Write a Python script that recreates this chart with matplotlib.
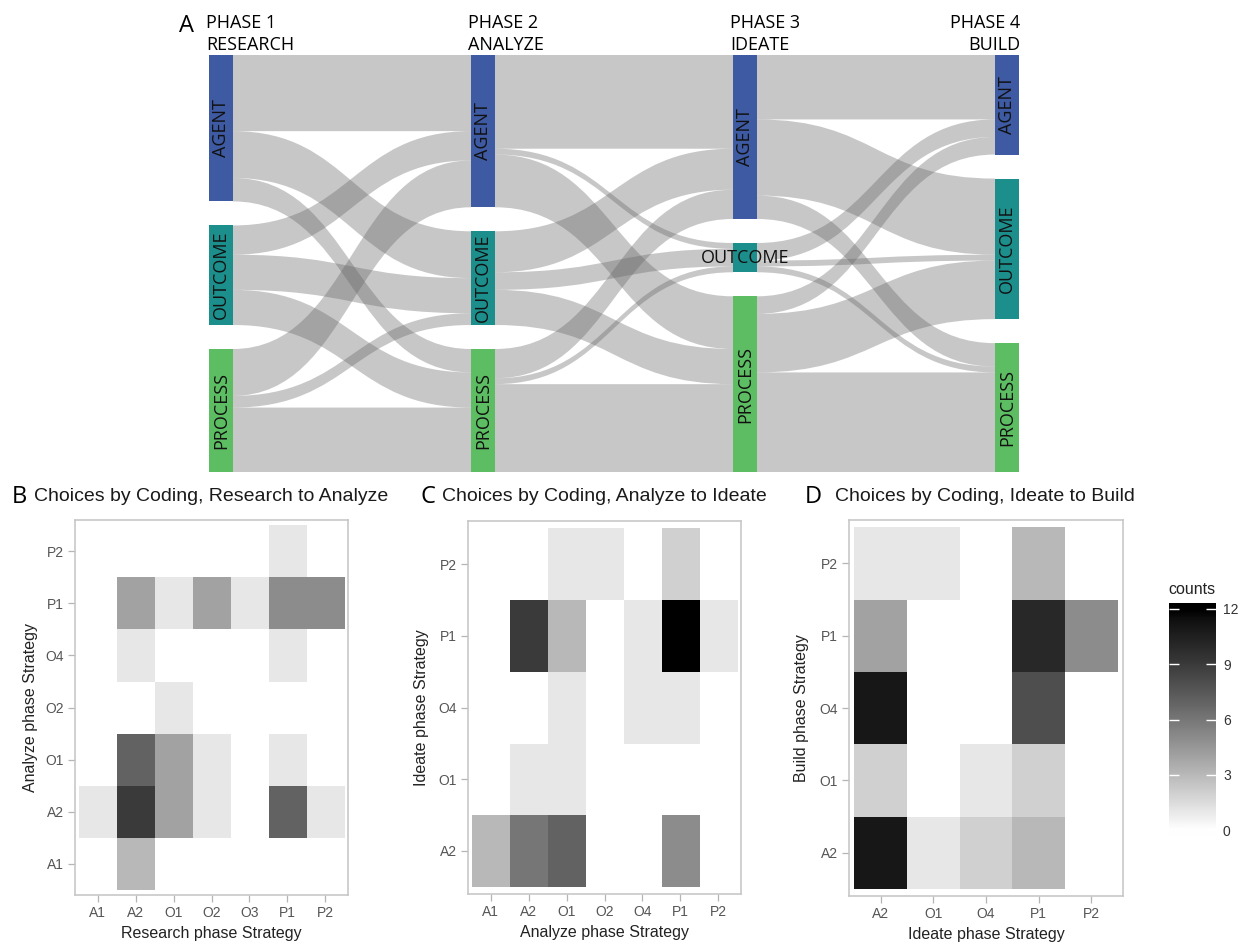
import numpy as np
import matplotlib
matplotlib.use("Agg")
import matplotlib.pyplot as plt
from matplotlib.colors import ListedColormap, Normalize
from matplotlib.path import Path
from matplotlib.patches import PathPatch, Rectangle

# ---------------- data ----------------
node_names = ['AGENT', 'OUTCOME', 'PROCESS']
node_colors = ['#3d5aa3', '#1c8f8c', '#5dbd62']
phase_titles = ['PHASE 1\nRESEARCH', 'PHASE 2\nANALYZE', 'PHASE 3\nIDEATE', 'PHASE 4\nBUILD']

# sankey flows: rows = from (AGENT, OUTCOME, PROCESS), cols = to
flow_research_analyze = [[13, 8, 4], [5, 6, 6], [8, 2, 11]]
flow_analyze_ideate = [[16, 1, 9], [7, 3, 6], [5, 1, 15]]
flow_ideate_build = [[11, 13, 4], [3, 1, 1], [3, 10, 17]]

# heatmaps: rows = y categories (bottom to top), cols = x categories
research_codes = ['A1', 'A2', 'O1', 'O2', 'O3', 'P1', 'P2']
analyze_codes = ['A1', 'A2', 'O1', 'O2', 'O4', 'P1', 'P2']
ideate_codes = ['A2', 'O1', 'O4', 'P1', 'P2']
build_codes = ['A2', 'O1', 'O4', 'P1', 'P2']

counts_research_analyze = [
    [0, 3, 0, 0, 0, 0, 0],   # A1
    [1, 9, 4, 1, 0, 7, 1],   # A2
    [0, 7, 4, 1, 0, 1, 0],   # O1
    [0, 0, 1, 0, 0, 0, 0],   # O2
    [0, 1, 0, 0, 0, 1, 0],   # O4
    [0, 4, 1, 4, 1, 5, 5],   # P1
    [0, 0, 0, 0, 0, 1, 0],   # P2
]
counts_analyze_ideate = [
    [3, 6, 7, 0, 0, 5, 0],   # A2
    [0, 1, 1, 0, 0, 0, 0],   # O1
    [0, 0, 1, 0, 1, 1, 0],   # O4
    [0, 9, 3, 0, 1, 12, 1],  # P1
    [0, 0, 1, 1, 0, 2, 0],   # P2
]
counts_ideate_build = [
    [11, 1, 2, 3, 0],   # A2
    [2, 0, 1, 2, 0],    # O1
    [11, 0, 0, 8, 0],   # O4
    [4, 0, 0, 10, 5],   # P1
    [1, 1, 0, 3, 0],    # P2
]

W, H = 1246, 949
fig = plt.figure(figsize=(W / 100, H / 100), dpi=100)
SANS = ['Open Sans', 'DejaVu Sans']
ARIAL = ['Liberation Sans', 'DejaVu Sans']


def px_box(l, t, r, b):
    return [l / W, 1 - b / H, (r - l) / W, (b - t) / H]


# ---------------- A: sankey ----------------
ax = fig.add_axes(px_box(209, 55, 1019, 472))
ax.axis('off')
bar_w = 24 / 262
gap = 4.1
flows = [np.array(f) for f in (flow_research_analyze, flow_analyze_ideate, flow_ideate_build)]
sizes = [flows[0].sum(axis=1)] + [f.sum(axis=0) for f in flows]
total = sizes[0].sum() + 2 * gap
ax.set_xlim(0, 3 + bar_w)
ax.set_ylim(total, 0)
tops = [np.concatenate([[0], np.cumsum(s)[:-1]]) + np.arange(3) * gap for s in sizes]

for k, f in enumerate(flows):
    x0, x1 = k + bar_w, k + 1
    xm = (x0 + x1) / 2
    out_off = tops[k].astype(float).copy()
    in_off = tops[k + 1].astype(float).copy()
    for i in range(3):
        for j in range(3):
            v = f[i, j]
            if v == 0:
                continue
            a0, a1 = out_off[i], out_off[i] + v
            b0, b1 = in_off[j], in_off[j] + v
            verts = [(x0, a0), (xm, a0), (xm, b0), (x1, b0), (x1, b1),
                     (xm, b1), (xm, a1), (x0, a1), (x0, a0)]
            codes = [Path.MOVETO, Path.CURVE4, Path.CURVE4, Path.CURVE4, Path.LINETO,
                     Path.CURVE4, Path.CURVE4, Path.CURVE4, Path.CLOSEPOLY]
            ax.add_patch(PathPatch(Path(verts, codes), facecolor='#646464',
                                   alpha=0.355, edgecolor='none'))
            out_off[i] += v
            in_off[j] += v

for k in range(4):
    for n in range(3):
        y0, h = tops[k][n], sizes[k][n]
        ax.add_patch(Rectangle((k, y0), bar_w, h, facecolor=node_colors[n],
                               edgecolor='none', zorder=3))
        if h >= 8:
            ax.text(k + bar_w / 2, y0 + h / 2, node_names[n], rotation=90,
                    ha='center', va='center', fontsize=13, family=SANS,
                    color='#111111', zorder=4)
        else:
            ax.text(k + bar_w / 2, y0 + h / 2, node_names[n], ha='center',
                    va='center', fontsize=13, family=SANS, color='#111111', zorder=4)
    if k < 3:
        ax.annotate(phase_titles[k], xy=(k, 0), xytext=(-3, 1), textcoords='offset pixels',
                    ha='left', va='bottom', fontsize=13, family=SANS, linespacing=1.3,
                    annotation_clip=False)
    else:
        ax.annotate(phase_titles[k], xy=(k + bar_w, 0), xytext=(1, 1),
                    textcoords='offset pixels', ha='right', va='bottom',
                    multialignment='right', fontsize=13, family=SANS, linespacing=1.3,
                    annotation_clip=False)

fig.text(179 / W, 1 - 32 / H, 'A', fontsize=17, family=SANS, ha='left', va='baseline')

# ---------------- heatmaps ----------------
L = np.linspace(100, 0, 256)
fy = (L + 16) / 116
Y = np.where(fy > 6 / 29, fy ** 3, L / 903.3)
g = np.where(Y > 0.0031308, 1.055 * Y ** (1 / 2.4) - 0.055, 12.92 * Y)
grey = ListedColormap(np.column_stack([g, g, g]))
norm = Normalize(vmin=0, vmax=12)


def draw_heat(box, counts, xcodes, ycodes, xlabel, ylabel, ylab_x):
    hx = fig.add_axes(px_box(*box))
    z = np.ma.masked_equal(np.array(counts, float), 0)
    hx.imshow(z, cmap=grey, norm=norm, origin='lower', aspect='auto',
              interpolation='nearest',
              extent=(-0.5, len(xcodes) - 0.5, -0.5, len(ycodes) - 0.5))
    hx.set_xlim(-0.6, len(xcodes) - 0.4)
    hx.set_ylim(-0.6, len(ycodes) - 0.4)
    hx.set_xticks(range(len(xcodes)), xcodes, family=ARIAL)
    hx.set_yticks(range(len(ycodes)), ycodes, family=ARIAL)
    hx.tick_params(length=5, width=0.9, color='#b5b5b5', labelcolor='#555555',
                   labelsize=10, pad=3)
    for sp in hx.spines.values():
        sp.set_color('#c4c4c4')
        sp.set_linewidth(1.1)
    hx.set_xlabel(xlabel, fontsize=11.5, family=ARIAL, color='#222222')
    hx.set_ylabel(ylabel, fontsize=11.5, family=ARIAL, color='#222222')
    hx.xaxis.set_label_coords(0.5, -0.083)
    hx.yaxis.set_label_coords(ylab_x, 0.5)
    return hx


draw_heat((75, 520, 348, 895), counts_research_analyze, research_codes, analyze_codes,
          'Research phase Strategy', 'Analyze phase Strategy', -0.135)
draw_heat((468, 521, 741, 894), counts_analyze_ideate, analyze_codes, ideate_codes,
          'Analyze phase Strategy', 'Ideate phase Strategy', -0.143)
draw_heat((849, 520, 1123, 896), counts_ideate_build, ideate_codes, build_codes,
          'Ideate phase Strategy', 'Build phase Strategy', -0.146)

panel_titles = [('B', 12, 34, 'Choices by Coding, Research to Analyze'),
                ('C', 421, 442, 'Choices by Coding, Analyze to Ideate'),
                ('D', 805, 835, 'Choices by Coding, Ideate to Build')]
for letter, lx, tx, title in panel_titles:
    fig.text(lx / W, 1 - 503 / H, letter, fontsize=17, family=SANS, va='baseline')
    fig.text(tx / W, 1 - 501 / H, title, fontsize=14, family=ARIAL,
             color='#1a1a1a', va='baseline')

# colorbar
cax = fig.add_axes(px_box(1169, 603, 1216, 836))
lo, hi = -0.32, 12.32
cax.imshow(np.linspace(lo, hi, 256)[:, None], cmap=grey, norm=norm, origin='lower',
           aspect='auto', extent=(0, 1, lo, hi))
cax.set_xlim(0, 1)
cax.set_ylim(lo, hi)
cax.set_xticks([])
cax.set_yticks([0, 3, 6, 9, 12])
cax.tick_params(axis='y', direction='in', left=True, right=True, labelleft=False,
                labelright=True, color='white', length=7, width=1,
                labelsize=10, labelcolor='#333333', pad=5)
for lab in cax.get_yticklabels():
    lab.set_family(ARIAL)
for sp in cax.spines.values():
    sp.set_visible(False)
fig.text(1168 / W, 1 - 594 / H, 'counts', fontsize=11.5, family=ARIAL,
         color='#222222', va='baseline')

fig.savefig('out.png', dpi=100)
